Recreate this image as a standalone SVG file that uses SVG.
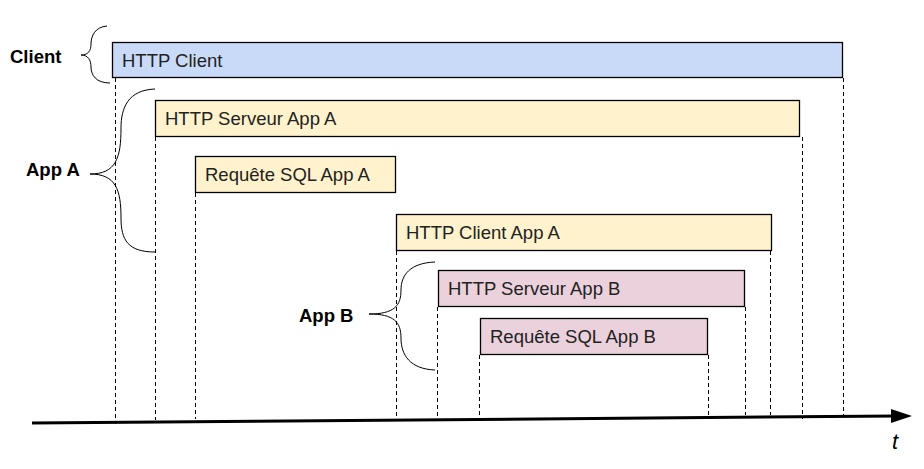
<svg xmlns="http://www.w3.org/2000/svg" width="924" height="469" viewBox="0 0 924 469">
<style>
.box{stroke:#000;stroke-width:1.3}
.blue{fill:#c9daf8}
.yel{fill:#fff2cc}
.pink{fill:#ead1dc}
.lbl{font-family:"Liberation Sans",Arial,sans-serif;font-size:18.5px;fill:#222}
.grp{font-family:"Liberation Sans",Arial,sans-serif;font-size:18.5px;font-weight:bold;fill:#000}
.dash{stroke:#000;stroke-width:1;stroke-dasharray:4 3;fill:none}
.brace{stroke:#000;stroke-width:1;fill:none}
</style>
<rect width="924" height="469" fill="#fff"/>
<g id="connectors">
<line class="dash" x1="115.5" y1="78" x2="115.5" y2="424"/>
<line class="dash" x1="155.5" y1="137" x2="155.5" y2="420"/>
<line class="dash" x1="195.5" y1="193" x2="195.5" y2="419"/>
<line class="dash" x1="396.5" y1="251" x2="396.5" y2="418"/>
<line class="dash" x1="437.5" y1="307" x2="437.5" y2="418"/>
<line class="dash" x1="479.5" y1="355" x2="479.5" y2="418"/>
<line class="dash" x1="708.5" y1="355" x2="708.5" y2="416"/>
<line class="dash" x1="745.5" y1="307" x2="745.5" y2="415"/>
<line class="dash" x1="770.5" y1="251" x2="770.5" y2="415"/>
<line class="dash" x1="802.5" y1="137" x2="802.5" y2="419"/>
<line class="dash" x1="843.5" y1="78" x2="843.5" y2="415"/>
<path class="brace" d="M107,26 C95,27 91,36 91,44 C91,51 88,55 81,55 C88,55 91,60 91,67 C91,75 96,83 110,83"/>
<path class="brace" d="M155,89 C128,90 121,108 121,128 C121,158 116,174 90,174 C116,174 121,190 121,218 C121,240 128,252 155,252"/>
<path class="brace" d="M435,262 C410,263 401,275 401,290 C401,306 394,314 369,314 C394,314 401,322 401,338 C401,355 410,369 435,370"/>
</g>
<g id="axis">
<line x1="32" y1="423" x2="897" y2="416" stroke="#000" stroke-width="3"/>
<path d="M891,409 L912,416 L891,423 z" fill="#000"/>
<text x="892" y="449" font-family="Liberation Sans,Arial,sans-serif" font-size="22" font-style="italic" fill="#000">t</text>
</g>
<g id="client-label"><text class="grp" x="10" y="63">Client</text></g>
<g id="appA-label"><text class="grp" x="26" y="176">App A</text></g>
<g id="appB-label"><text class="grp" x="299" y="322">App B</text></g>
<g id="http-client"><rect class="box blue" x="112.5" y="42.5" width="730" height="35"/><text class="lbl" x="122" y="67">HTTP Client</text></g>
<g id="http-serveur-a"><rect class="box yel" x="155.5" y="100.5" width="644" height="36"/><text class="lbl" x="165" y="125">HTTP Serveur App A</text></g>
<g id="sql-a"><rect class="box yel" x="195.5" y="156.5" width="200" height="36"/><text class="lbl" x="205" y="181">Requête SQL App A</text></g>
<g id="http-client-a"><rect class="box yel" x="396.5" y="214.5" width="375" height="36"/><text class="lbl" x="406" y="239">HTTP Client App A</text></g>
<g id="http-serveur-b"><rect class="box pink" x="438.5" y="270.5" width="306" height="36"/><text class="lbl" x="448" y="295">HTTP Serveur App B</text></g>
<g id="sql-b"><rect class="box pink" x="480.5" y="318.5" width="227" height="36"/><text class="lbl" x="490" y="343">Requête SQL App B</text></g>
</svg>
